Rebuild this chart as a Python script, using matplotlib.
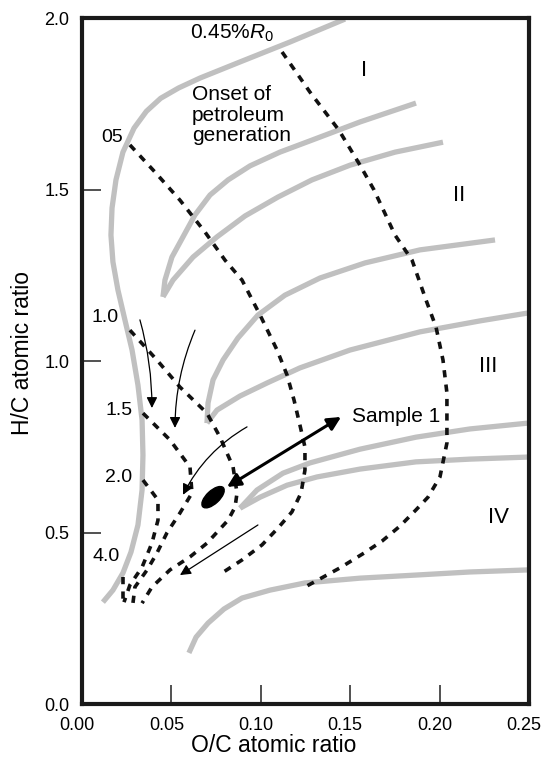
import matplotlib
matplotlib.use("Agg")
import matplotlib.pyplot as plt
from matplotlib.patches import Ellipse
from matplotlib.transforms import ScaledTranslation

plt.rcParams['font.family'] = ['Liberation Sans', 'DejaVu Sans']
plt.rcParams['mathtext.fontset'] = 'custom'
plt.rcParams['mathtext.rm'] = 'Liberation Sans'
plt.rcParams['mathtext.it'] = 'Liberation Sans:italic'

# grey kerogen evolution paths (O/C, H/C)
env_x = [0.1471, 0.1163, 0.0884, 0.0660, 0.0540, 0.0440, 0.0360, 0.0291, 0.0229, 0.0190, 0.0168, 0.0162, 0.0173,
         0.0201, 0.0240, 0.0280, 0.0313, 0.0336, 0.0341, 0.0336, 0.0313, 0.0274, 0.0229, 0.0173, 0.0117]
env_y = [1.997, 1.930, 1.872, 1.825, 1.796, 1.766, 1.728, 1.679, 1.609, 1.528, 1.446, 1.367, 1.289,
         1.207, 1.120, 1.032, 0.930, 0.828, 0.726, 0.624, 0.522, 0.443, 0.382, 0.332, 0.297]

typeI_a_x = [0.0453, 0.0464, 0.0503, 0.0565, 0.0632, 0.0716, 0.0817, 0.0940, 0.1107, 0.1286, 0.1555, 0.1868]
typeI_a_y = [1.187, 1.236, 1.303, 1.362, 1.426, 1.484, 1.528, 1.569, 1.609, 1.644, 1.697, 1.752]
typeI_b_x = [0.0453, 0.0509, 0.0621, 0.0755, 0.0912, 0.1096, 0.1286, 0.1499, 0.1751, 0.2019]
typeI_b_y = [1.187, 1.236, 1.303, 1.362, 1.423, 1.478, 1.528, 1.571, 1.609, 1.638]

typeII_a_x = [0.0699, 0.0705, 0.0733, 0.0789, 0.0872, 0.0984, 0.1135, 0.1331, 0.1583, 0.1890, 0.2310]
typeII_a_y = [0.819, 0.878, 0.945, 1.003, 1.067, 1.134, 1.192, 1.242, 1.286, 1.324, 1.353]
typeII_b_x = [0.0699, 0.0755, 0.0884, 0.1035, 0.1219, 0.1499, 0.1890, 0.2226, 0.2494]
typeII_b_y = [0.819, 0.857, 0.898, 0.936, 0.980, 1.032, 1.085, 1.117, 1.140]

typeIII_a_x = [0.0884, 0.0979, 0.1124, 0.1275, 0.1555, 0.1868, 0.2170, 0.2494]
typeIII_a_y = [0.571, 0.624, 0.673, 0.703, 0.743, 0.778, 0.802, 0.819]
typeIII_b_x = [0.0884, 0.0996, 0.1147, 0.1314, 0.1555, 0.1868, 0.2170, 0.2494]
typeIII_b_y = [0.571, 0.603, 0.638, 0.662, 0.685, 0.706, 0.714, 0.720]

typeIV_x = [0.0598, 0.0638, 0.0705, 0.0794, 0.0895, 0.1051, 0.1247, 0.1555, 0.1868, 0.2170, 0.2494]
typeIV_y = [0.149, 0.195, 0.236, 0.277, 0.309, 0.332, 0.353, 0.367, 0.376, 0.385, 0.391]

# dashed isoreflectance lines
r045_x = [0.1119, 0.1275, 0.1437, 0.1555, 0.1633, 0.1751, 0.1846, 0.1924, 0.1980, 0.2019, 0.2041,
          0.2041, 0.2002, 0.1935, 0.1868, 0.1779, 0.1678, 0.1577, 0.1443, 0.1247]
r045_y = [1.901, 1.784, 1.673, 1.571, 1.499, 1.367, 1.294, 1.178, 1.099, 1.003, 0.907,
          0.761, 0.662, 0.603, 0.566, 0.519, 0.475, 0.440, 0.397, 0.341]
r05_x = [0.0268, 0.0408, 0.0548, 0.0688, 0.0800, 0.0895, 0.0996, 0.1091, 0.1147, 0.1186, 0.1219,
         0.1247, 0.1247, 0.1225, 0.1174, 0.1096, 0.1007, 0.0895, 0.0783]
r05_y = [1.630, 1.551, 1.469, 1.376, 1.294, 1.236, 1.134, 1.032, 0.959, 0.886, 0.813,
         0.749, 0.682, 0.615, 0.560, 0.513, 0.464, 0.420, 0.382]
r10_x = [0.0268, 0.0419, 0.0548, 0.0699, 0.0772, 0.0845, 0.0867, 0.0856, 0.0817, 0.0699, 0.0604,
         0.0492, 0.0391, 0.0336]
r10_y = [1.090, 1.003, 0.924, 0.848, 0.778, 0.691, 0.615, 0.574, 0.536, 0.469, 0.429,
         0.391, 0.341, 0.294]
r15_x = [0.0341, 0.0492, 0.0604, 0.0615, 0.0548, 0.0475, 0.0419, 0.0364, 0.0296, 0.0285]
r15_y = [0.848, 0.770, 0.691, 0.615, 0.557, 0.499, 0.440, 0.391, 0.341, 0.294]
r20_x = [0.0341, 0.0425, 0.0425, 0.0391, 0.0336, 0.0268, 0.0235]
r20_y = [0.653, 0.595, 0.536, 0.469, 0.399, 0.347, 0.297]
r40_x = [0.0229, 0.0229]
r40_y = [0.370, 0.294]

fig = plt.figure(figsize=(5.43, 7.67), dpi=100)
ax = fig.add_axes([0.1510, 0.0821, 0.8232, 0.8944])

grey = '#c0c0c0'
for xs, ys in [(env_x, env_y), (typeI_a_x, typeI_a_y), (typeI_b_x, typeI_b_y),
               (typeII_a_x, typeII_a_y), (typeII_b_x, typeII_b_y),
               (typeIII_a_x, typeIII_a_y), (typeIII_b_x, typeIII_b_y), (typeIV_x, typeIV_y)]:
    ax.plot(xs, ys, color=grey, lw=3.8, solid_capstyle='butt', solid_joinstyle='round', zorder=2)

for xs, ys in [(r045_x, r045_y), (r05_x, r05_y), (r10_x, r10_y), (r15_x, r15_y),
               (r20_x, r20_y), (r40_x, r40_y)]:
    ax.plot(xs, ys, color='#111111', lw=2.6, dashes=(2.0, 2.0), zorder=3)

# thin arrows
arr = dict(arrowstyle='-|>', color='k', lw=0.9, mutation_scale=16, shrinkA=0, shrinkB=0)
ax.annotate('', xy=(0.0391, 0.863), xytext=(0.0324, 1.120),
            arrowprops=dict(arr, connectionstyle='arc3,rad=-0.07'))
ax.annotate('', xy=(0.0520, 0.805), xytext=(0.0632, 1.090),
            arrowprops=dict(arr, connectionstyle='arc3,rad=0.1'))
ax.annotate('', xy=(0.0565, 0.610), xytext=(0.0923, 0.808),
            arrowprops=dict(arr, connectionstyle='arc3,rad=0.15'))
ax.annotate('', xy=(0.0548, 0.376), xytext=(0.0984, 0.522),
            arrowprops=dict(arr, connectionstyle='arc3,rad=0'))

# sample 1
ax.annotate('', xy=(0.1449, 0.837), xytext=(0.0811, 0.633),
            arrowprops=dict(arrowstyle='<|-|>', color='k', lw=2.2, mutation_scale=20,
                            shrinkA=0, shrinkB=0))
ell = Ellipse((0, 0), 0.28, 0.13, angle=43, color='k',
              transform=fig.dpi_scale_trans + ScaledTranslation(0.0733, 0.603, ax.transData))
ax.add_artist(ell)

fs = 15
ax.text(0.0604, 1.956, r'0.45%$\mathit{R_0}$', fontsize=fs, va='center', ha='left')
ax.text(0.0615, 1.717, 'Onset of\npetroleum\ngeneration', fontsize=fs, va='center', ha='left',
        linespacing=1.1)
ax.text(0.151, 0.837, 'Sample 1', fontsize=fs, va='center', ha='left')
for s, x, y in [('I', 0.1577, 1.848), ('II', 0.2108, 1.484), ('III', 0.2271, 0.983), ('IV', 0.2332, 0.545)]:
    ax.text(x, y, s, fontsize=16, va='center', ha='center')
for s, x, y in [('05', 0.0168, 1.653), ('1.0', 0.0129, 1.128), ('1.5', 0.0207, 0.857),
                ('2.0', 0.0207, 0.659), ('4.0', 0.0134, 0.429)]:
    ax.text(x, y, s, fontsize=14, va='center', ha='center')

ax.set_xlim(0, 0.25)
ax.set_ylim(0, 2.0)
ax.set_xticks([0.00, 0.05, 0.10, 0.15, 0.20, 0.25])
ax.set_xticklabels(['0.00', '0.05', '0.10', '0.15', '0.20', '0.25'])
ax.set_yticks([0.0, 0.5, 1.0, 1.5, 2.0])
ax.set_yticklabels(['0.0', '0.5', '1.0', '1.5', '2.0'])
ax.tick_params(direction='in', length=14, width=1.1, labelsize=13, pad=9, color='#222222')
shift = ScaledTranslation(-0.05, 0, fig.dpi_scale_trans)
for lab in ax.get_xticklabels():
    lab.set_transform(lab.get_transform() + shift)
for sp in ax.spines.values():
    sp.set_linewidth(3.0)
    sp.set_color('#1a1a1a')

fig.text(0.0414, 0.5398, 'H/C atomic ratio', rotation=90, fontsize=16.5, ha='center', va='center')
fig.text(0.5046, 0.0275, 'O/C atomic ratio', fontsize=16.5, ha='center', va='center')

fig.savefig('out.png', dpi=100)
